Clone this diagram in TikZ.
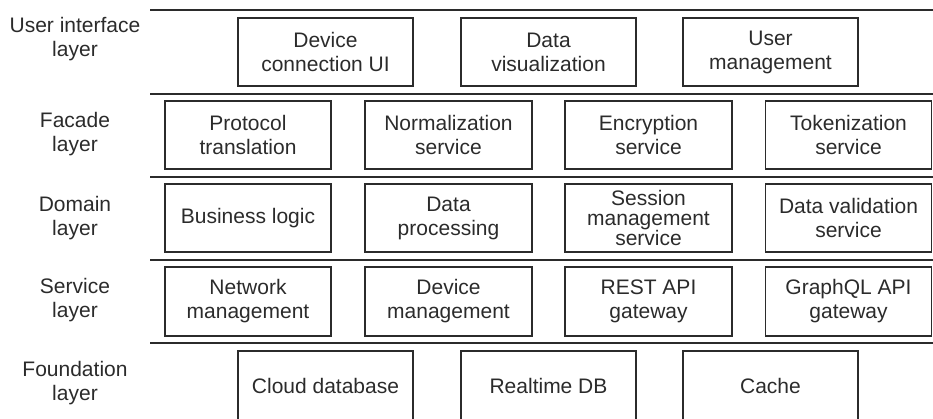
\documentclass[tikz,border=0pt]{standalone}
\usepackage{fontspec}
\setmainfont{Liberation Sans}
\definecolor{ink}{HTML}{2B2B2B}
\begin{document}
\begin{tikzpicture}[x=1pt,y=-1pt,
  box/.style={draw=ink,line width=1.1pt,text=ink,align=center,inner sep=0pt,
    font=\fontsize{21}{24}\selectfont},
  lbl/.style={text=ink,align=center,inner sep=0pt,font=\fontsize{21}{24}\selectfont},
  sep/.style={draw=ink,line width=1.8pt}]
\useasboundingbox (0,0) rectangle (933,418);
% separators
\coordinate (l0a) at (150,10);  \coordinate (l0b) at (933,10);
\coordinate (l1a) at (150,94);  \coordinate (l1b) at (933,94);
\coordinate (l2a) at (150,177); \coordinate (l2b) at (933,177);
\coordinate (l3a) at (150,260); \coordinate (l3b) at (933,260);
\coordinate (l4a) at (150,343); \coordinate (l4b) at (933,343);
\draw[sep] (l0a) -- (l0b);
\draw[sep] (l1a) -- (l1b);
\draw[sep] (l2a) -- (l2b);
\draw[sep] (l3a) -- (l3b);
\draw[sep] (l4a) -- (l4b);
% labels
\node[lbl] (lui)  at (75,39)  {User interface\\layer};
\node[lbl] (lfac) at (75,134) {Facade\\layer};
\node[lbl] (ldom) at (75,218) {Domain\\layer};
\node[lbl] (lser) at (75,300) {Service\\layer};
\node[lbl] (lfou) at (75,383) {Foundation\\layer};
% UI row
\node[box,minimum width=175pt,minimum height=68pt] (ui1) at (325.5,52) {Device\\connection UI};
\node[box,minimum width=175pt,minimum height=68pt] (ui2) at (548.5,52) {Data\\visualization};
\node[box,minimum width=175pt,minimum height=68pt] (ui3) at (770.5,52) {User\\management};
% Facade row
\node[box,minimum width=166pt,minimum height=68pt] (f1) at (248,135) {Protocol\\translation};
\node[box,minimum width=167pt,minimum height=68pt] (f2) at (448.5,135) {Normalization\\service};
\node[box,minimum width=167pt,minimum height=68pt] (f3) at (648.5,135) {Encryption\\service};
\node[box,minimum width=166pt,minimum height=68pt] (f4) at (848.5,135) {Tokenization\\service};
% Domain row
\node[box,minimum width=166pt,minimum height=68pt] (d1) at (248,218) {Business logic};
\node[box,minimum width=167pt,minimum height=68pt] (d2) at (448.5,218) {Data\\processing};
\node[box,minimum width=167pt,minimum height=68pt,font=\fontsize{21}{20}\selectfont] (d3) at (648.5,218) {Session\\management\\service};
\node[box,minimum width=166pt,minimum height=68pt] (d4) at (848.5,218) {Data validation\\service};
% Service row
\node[box,minimum width=166pt,minimum height=69pt] (s1) at (248,301.5) {Network\\management};
\node[box,minimum width=167pt,minimum height=69pt] (s2) at (448.5,301.5) {Device\\management};
\node[box,minimum width=167pt,minimum height=69pt] (s3) at (648.5,301.5) {REST API\\gateway};
\node[box,minimum width=166pt,minimum height=69pt] (s4) at (848.5,301.5) {GraphQL API\\gateway};
% Foundation row (bottom edge cut off)
\node[box,minimum width=175pt,minimum height=70pt] (b1) at (325.5,386) {Cloud database};
\node[box,minimum width=175pt,minimum height=70pt] (b2) at (548.5,386) {Realtime DB};
\node[box,minimum width=175pt,minimum height=70pt] (b3) at (770.5,386) {Cache};
\end{tikzpicture}
\end{document}
